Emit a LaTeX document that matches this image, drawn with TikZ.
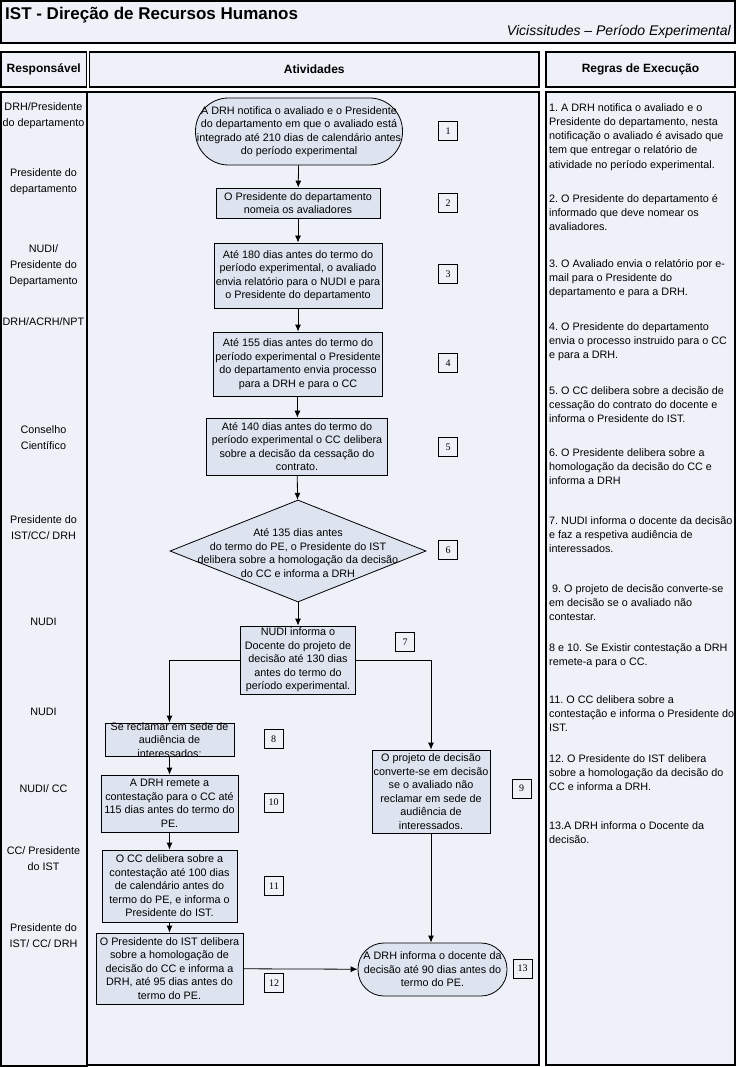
\documentclass[tikz,border=0pt]{standalone}
\usepackage{fontspec}
\setmainfont{Liberation Sans}
\newfontfamily\numfont{Liberation Serif}
\usetikzlibrary{shapes.geometric,arrows.meta}
\definecolor{panelfill}{RGB}{238,241,248}
\definecolor{boxfill}{RGB}{221,228,239}
\frenchspacing

\begin{document}
\begin{tikzpicture}[x=1pt, y=-1pt,
    panel/.style={draw, line width=1.1pt, fill=panelfill},
    head/.style={panel, minimum height=35pt, inner sep=0pt, font=\fontsize{12}{14}\selectfont\bfseries},
    act/.style={draw, line width=0.8pt, fill=boxfill, align=center, inner sep=0pt, font=\fontsize{10.8}{13.5}\selectfont},
    term/.style={act, rounded corners=#1},
    txt/.style={align=center, inner sep=0pt, font=\fontsize{10.8}{13.5}\selectfont},
    num/.style={draw, line width=0.6pt, fill=panelfill, minimum size=19pt, inner sep=0pt, font=\numfont\fontsize{10}{12}\selectfont},
    lane/.style={align=center, inner sep=0pt, font=\fontsize{10.8}{16}\selectfont},
    regra/.style={anchor=north west, align=left, inner sep=0pt, font=\fontsize{10.8}{14.3}\selectfont},
    flow/.style={draw, line width=0.8pt, -{Latex[length=7pt,width=6pt]}}]
    \useasboundingbox (0,0) rectangle (736,1067);

    \draw[panel] (1,1) rectangle (735,43);
    \node[anchor=base west, inner sep=0pt, font=\fontsize{17}{20}\selectfont\bfseries] (title) at (5,20) {IST - Direção de Recursos Humanos};
    \node[anchor=base east, inner sep=0pt, font=\fontsize{14}{16}\selectfont\itshape] (subtitle) at (731,36) {Vicissitudes – Período Experimental};

    \node[head, minimum width=85.5pt] (hresp) at (43.75,69.5) {Responsável};
    \node[head, minimum width=449.5pt] (hativ) at (314.25,69.5) {Atividades};
    \node[head, minimum width=189pt] (hregras) at (640.5,69.5) {Regras de Execução};

    \draw[panel] (1,92) rectangle (87,1066);
    \draw[panel] (87,92) rectangle (539,1065);
    \draw[panel] (546,92) rectangle (735,1065);

    \node[lane] (l1) at (43.5,116) {DRH/Presidente\\do departamento};
    \node[lane] (l2) at (43.5,182) {Presidente do\\departamento};
    \node[lane] (l3) at (43.5,266) {NUDI/\\Presidente do\\Departamento};
    \node[lane] (l4) at (43.5,322) {DRH/ACRH/NPT};
    \node[lane] (l5) at (43.5,438) {Conselho\\Científico};
    \node[lane] (l6) at (43.5,528) {Presidente do\\IST/CC/ DRH};
    \node[lane] (l7) at (43.5,622) {NUDI};
    \node[lane] (l8) at (43.5,712) {NUDI};
    \node[lane] (l9) at (43.5,789) {NUDI/ CC};
    \node[lane] (l10) at (43.5,859) {CC/ Presidente\\do IST};
    \node[lane] (l11) at (43.5,936) {Presidente do\\IST/ CC/ DRH};

    \node[term=33pt, minimum width=207pt, minimum height=67pt] (b1) at (299,131.5) {A DRH notifica o avaliado e o Presidente\\do departamento em que o avaliado está\\integrado até 210 dias de calendário antes\\do período experimental};
    \node[act, minimum width=164pt, minimum height=30pt] (b2) at (298,203) {O Presidente do departamento\\nomeia os avaliadores};
    \node[act, minimum width=168pt, minimum height=65pt] (b3) at (298,275.5) {Até 180 dias antes do termo do\\período experimental, o avaliado\\envia relatório para o NUDI e para\\o Presidente do departamento};
    \node[act, minimum width=169pt, minimum height=64pt] (b4) at (298,364) {Até 155 dias antes do termo do\\período experimental o Presidente\\do departamento envia processo\\para a DRH e para o CC};
    \node[act, minimum width=181pt, minimum height=57pt] (b5) at (297,446.5) {Até 140 dias antes do termo do\\período experimental o CC delibera\\sobre a decisão da cessação do\\contrato.};
    \node[diamond, draw, line width=0.8pt, fill=boxfill, inner sep=0pt, minimum width=256pt, minimum height=102pt] (d6) at (298,551) {};
    \node[txt] (t6) at (298,553) {Até 135 dias antes\\do termo do PE, o Presidente do IST\\delibera sobre a homologação da decisão\\do CC e informa a DRH};
    \node[act, minimum width=115pt, minimum height=68pt] (b7) at (298,660) {NUDI informa o\\Docente do projeto de\\decisão até 130 dias\\antes do termo do\\período experimental.};

    \node[act, minimum width=129pt, minimum height=33pt] (b8) at (169.5,739.5) {};
    \node[txt] (t8) at (169.5,740) {Se reclamar em sede de\\audiência de\\interessados:};
    \node[act, minimum width=137pt, minimum height=57pt] (b10) at (169.5,803.5) {A DRH remete a\\contestação para o CC até\\115 dias antes do termo do\\PE.};
    \node[act, minimum width=135pt, minimum height=72pt] (b11) at (169.5,886) {O CC delibera sobre a\\contestação até 100 dias\\de calendário antes do\\termo do PE, e informa o\\Presidente do IST.};
    \node[act, minimum width=147pt, minimum height=71pt] (b12) at (169.5,968.5) {O Presidente do IST delibera\\sobre a homologação de\\decisão do CC e informa a\\DRH, até 95 dias antes do\\termo do PE.};

    \node[act, minimum width=118pt, minimum height=83pt] (b9) at (431,791.5) {O projeto de decisão\\converte-se em decisão\\se o avaliado não\\reclamar em sede de\\audiência de\\interessados.};
    \node[term=26pt, minimum width=149pt, minimum height=53pt] (b13) at (432.5,969.5) {A DRH informa o docente da\\decisão até 90 dias antes do\\termo do PE.};

    \node[num] (n1) at (448,131) {1};
    \node[num] (n2) at (448,203) {2};
    \node[num] (n3) at (448,274) {3};
    \node[num] (n4) at (448,363) {4};
    \node[num] (n5) at (448,447) {5};
    \node[num] (n6) at (448,550) {6};
    \node[num] (n7) at (405,642) {7};
    \node[num] (n8) at (273.5,739) {8};
    \node[num] (n10) at (273.5,802.5) {10};
    \node[num] (n9) at (521.5,788.5) {9};
    \node[num] (n11) at (274,886) {11};
    \node[num] (n12) at (274,983) {12};
    \node[num] (n13) at (522.5,968.5) {13};

    \path[flow] (b1) edge (b2);
    \path[flow] (b2) edge (b3);
    \path[flow] (b3) edge (b4);
    \path[flow] (b4) edge (b5);
    \path[flow] (b5) edge (d6);
    \path[flow] (d6) edge (b7);
    \draw[flow] (b7.west) -| (b8.north);
    \draw[flow] (b7.east) -| (b9.north);
    \path[flow] (b8) edge (b10);
    \path[flow] (b10) edge (b11);
    \path[flow] (b11) edge (b12);
    \path[flow] (b12) edge (b13);
    \draw[flow] (b9.south) -- (b9.south |- b13.north);

    \node[regra] (r1) at (549,103) {1. A DRH notifica o avaliado e o\\Presidente do departamento, nesta\\notificação o avaliado é avisado que\\tem que entregar o relatório de\\atividade no período experimental.};
    \node[regra] (r2) at (549,194) {2. O Presidente do departamento é\\informado que deve nomear os\\avaliadores.};
    \node[regra] (r3) at (549,259) {3. O Avaliado envia o relatório por e-\\mail para o Presidente do\\departamento e para a DRH.};
    \node[regra] (r4) at (549,322) {4. O Presidente do departamento\\envia o processo instruido para o CC\\e para a DRH.};
    \node[regra] (r5) at (549,386) {5. O CC delibera sobre a decisão de\\cessação do contrato do docente e\\informa o Presidente do IST.};
    \node[regra] (r6) at (549,448) {6. O Presidente delibera sobre a\\homologação da decisão do CC e\\informa a DRH};
    \node[regra] (r7) at (549,516) {7. NUDI informa o docente da decisão\\e faz a respetiva audiência de\\interessados.};
    \node[regra] (r9) at (549,584) {\ 9. O projeto de decisão converte-se\\em decisão se o avaliado não\\contestar.};
    \node[regra] (r8) at (549,643) {8 e 10. Se Existir contestação a DRH\\remete-a para o CC.};
    \node[regra] (r11) at (549,695) {11. O CC delibera sobre a\\contestação e informa o Presidente do\\IST.};
    \node[regra] (r12) at (549,754) {12. O Presidente do IST delibera\\sobre a homologação da decisão do\\CC e informa a DRH.};
    \node[regra] (r13) at (549,821) {13.A DRH informa o Docente da\\decisão.};
\end{tikzpicture}
\end{document}
